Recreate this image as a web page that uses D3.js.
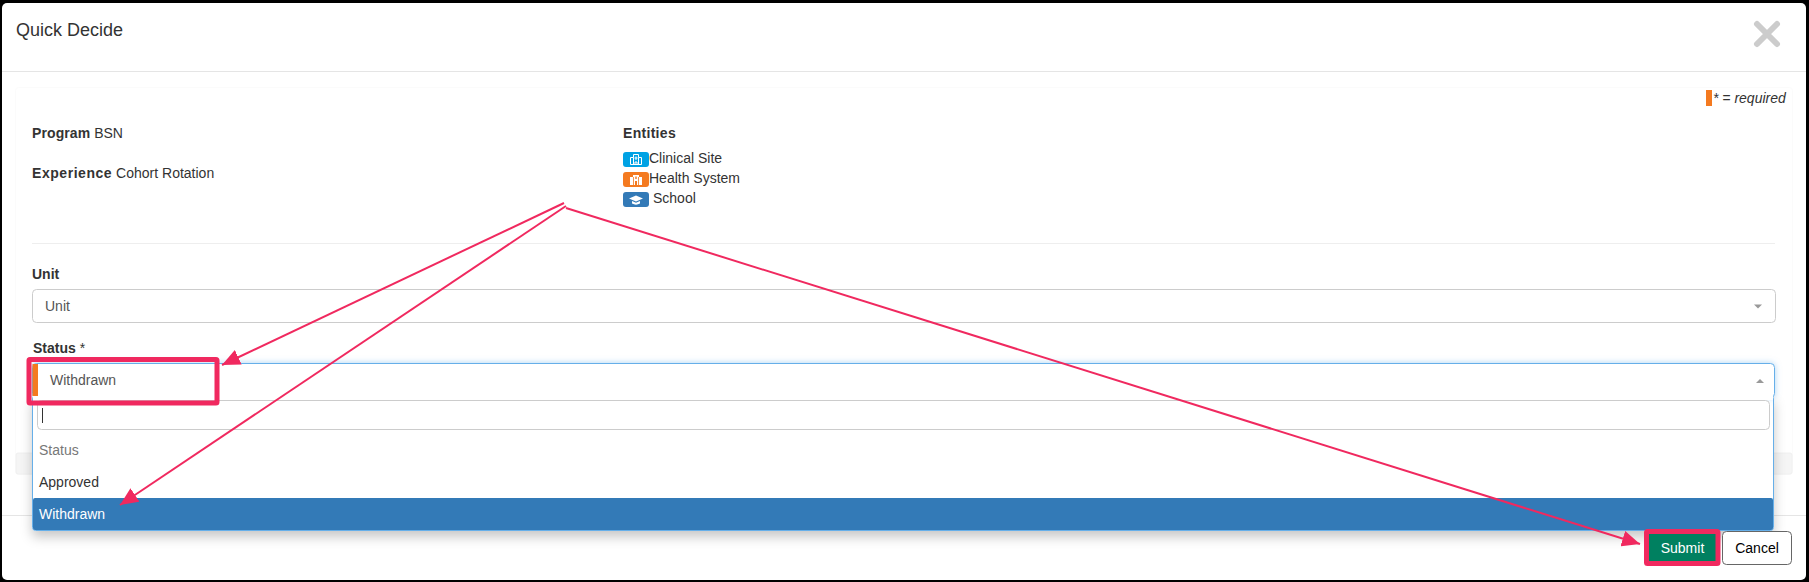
<!DOCTYPE html>
<html>
<head>
<meta charset="utf-8">
<script src="https://cdn.jsdelivr.net/npm/d3@7"></script>
<style>
  html, body { margin: 0; padding: 0; background: #fff; overflow: hidden; }
  svg { display: block; }
  text { font-family: "Liberation Sans", Arial, sans-serif; font-size: 14px; fill: #333; }
</style>
</head>
<body>
<div id="chart"></div>
<script>
const dialogTitle = 'Quick Decide';
const requiredNote = '* = required';
const summaryLabels = ['Program', 'Experience'];
const summaryValues = ['BSN', 'Cohort Rotation'];
const entityHeading = 'Entities';
const entityNames = ['Clinical Site', 'Health System', 'School'];
const entityColors = ['#00a2e4', '#f47a20', '#337ab7'];
const entityIcons = ['hospital', 'system', 'school'];
const statusOptions = ['Status', 'Approved', 'Withdrawn'];
const statusOptionColors = ['#777', '#333', '#fff'];
const unitLabel = 'Unit';
const statusLabel = 'Status';
const selectedStatus = 'Withdrawn';
const buttonLabels = ['Submit', 'Cancel'];

const pink = '#f0295f';
const orange = '#f47a20';

const svg = d3
  .select('#chart')
  .append('svg')
  .attr('width', 1809)
  .attr('height', 582);

// Shadows for the open dropdown and the focused select
const defs = svg.append('defs');
const dropShadow = defs
  .append('filter')
  .attr('id', 'dropShadow')
  .attr('x', '-5%')
  .attr('y', '-20%')
  .attr('width', '110%')
  .attr('height', '150%');
dropShadow
  .append('feDropShadow')
  .attr('dx', 0)
  .attr('dy', 6)
  .attr('stdDeviation', 6)
  .attr('flood-color', '#000')
  .attr('flood-opacity', 0.22);
const focusGlow = defs
  .append('filter')
  .attr('id', 'focusGlow')
  .attr('x', '-5%')
  .attr('y', '-50%')
  .attr('width', '110%')
  .attr('height', '200%');
focusGlow
  .append('feDropShadow')
  .attr('dx', 0)
  .attr('dy', 0)
  .attr('stdDeviation', 3)
  .attr('flood-color', '#66afe9')
  .attr('flood-opacity', 0.55);

const marker = defs
  .append('marker')
  .attr('id', 'arrowHead')
  .attr('viewBox', '0 0 18 16')
  .attr('refX', 18)
  .attr('refY', 8)
  .attr('markerUnits', 'userSpaceOnUse')
  .attr('markerWidth', 18)
  .attr('markerHeight', 16)
  .attr('orient', 'auto');
marker.append('path').attr('d', 'M0,0L18,8L0,16Z').attr('fill', pink);

function addText(parent, x, y, str, opts = {}) {
  return parent
    .append('text')
    .attr('x', x)
    .attr('y', y)
    .attr('text-anchor', opts.anchor || 'start')
    .style('font-size', (opts.size || 14) + 'px')
    .style('font-weight', opts.weight || 'normal')
    .style('font-style', opts.italic ? 'italic' : 'normal')
    .style('fill', opts.color || '#333')
    .text(str);
}

function addRect(parent, x, y, w, h, fill, stroke, rx) {
  return parent
    .append('rect')
    .attr('x', x)
    .attr('y', y)
    .attr('width', w)
    .attr('height', h)
    .attr('fill', fill)
    .attr('stroke', stroke || 'none')
    .attr('rx', rx || 0);
}

// **********************
// DIALOG FRAME
// **********************
addRect(svg, 0, 0, 1809, 582, '#000');
addRect(svg, 2, 3, 1804, 577, '#fff', 'none', 5);

addText(svg, 16, 36, dialogTitle, { size: 18 });
svg
  .append('path')
  .attr('d', 'M1757,24L1777,44M1777,24L1757,44')
  .attr('stroke', '#ccc')
  .attr('stroke-width', 6)
  .attr('stroke-linecap', 'round');
svg.append('line').attr('x1', 2).attr('x2', 1806).attr('y1', 71.5).attr('y2', 71.5).attr('stroke', '#e5e5e5');

// Faint panel behind the form
addRect(svg, 15.5, 87.5, 1777, 387, 'none', '#fbfbfb', 3);
addRect(svg, 16, 453, 1776, 21, '#f5f5f5', '#f0f0f0', 2);
svg.append('line').attr('x1', 2).attr('x2', 1806).attr('y1', 515.5).attr('y2', 515.5).attr('stroke', '#e5e5e5');

addRect(svg, 1706, 90, 6, 16, orange);
addText(svg, 1713, 103, requiredNote, { italic: true });

// **********************
// SUMMARY BLOCK
// **********************
const summaryY = d3.scalePoint().domain(summaryLabels).range([138, 178]);
summaryLabels.forEach((label, i) => {
  const t = addText(svg, 32, summaryY(label), null, { weight: 'bold' });
  t.append('tspan')
    .style('letter-spacing', label === 'Experience' ? '0.55px' : '0.1px')
    .text(label);
  t.append('tspan').style('font-weight', 'normal').text(' ' + summaryValues[i]);
});

addText(svg, 623, 138, entityHeading, { weight: 'bold' }).style('letter-spacing', '0.3px');

const entityY = d3.scalePoint().domain(entityNames).range([152, 192]);
const entityRows = svg
  .selectAll('g.entity')
  .data(entityNames)
  .enter()
  .append('g')
  .attr('class', 'entity')
  .attr('transform', (d) => `translate(623,${entityY(d)})`);

entityRows
  .append('rect')
  .attr('width', 26)
  .attr('height', 15)
  .attr('rx', 3)
  .attr('fill', (d, i) => entityColors[i]);

entityRows
  .append('path')
  .attr('fill', (d, i) => (entityIcons[i] === 'hospital' ? 'none' : '#fff'))
  .attr('fill-rule', 'evenodd')
  .attr('stroke', (d, i) => (entityIcons[i] === 'hospital' ? '#fff' : 'none'))
  .attr('stroke-width', 1)
  .attr('d', (d, i) => {
    if (entityIcons[i] === 'school') {
      return 'M6,6.5L13,3.5L20,6.5L13,9.5ZM9,9L13,10.8L17,9V11.5Q13,13.8 9,11.5Z';
    }
    if (entityIcons[i] === 'system') {
      return 'M7,13V5H10V3H16V5H19V13ZM10,5V13H10.8V5ZM15.2,5V13H16V5ZM12,9V13H14V9ZM12.3,4.5V7H13.7V4.5Z';
    }
    // outlined building with a cross on the tower
    return 'M7.5,12.5V5.5H10.5V2.5H15.5V5.5H18.5V12.5ZM10.5,5.5V12.5M15.5,5.5V12.5M13,4.5V8M11.5,6H14.5M12,12.5V10H14V12.5';
  });

entityRows
  .append('text')
  .attr('x', (d, i) => (i === 2 ? 30 : 26))
  .attr('y', 11)
  .text((d) => d);

svg.append('line').attr('x1', 32).attr('x2', 1775).attr('y1', 243.5).attr('y2', 243.5).attr('stroke', '#eee');

// **********************
// UNIT SELECT
// **********************
addText(svg, 32, 279, unitLabel, { weight: 'bold' });
addRect(svg, 32.5, 289.5, 1743, 33, '#fff', '#ccc', 4);
addText(svg, 45, 311, unitLabel, { color: '#555' });
svg.append('path').attr('d', 'M1754,304.5H1762L1758,308.5Z').attr('fill', '#999');

// **********************
// STATUS SELECT (OPEN)
// **********************
const status = addText(svg, 33, 353, statusLabel, { weight: 'bold' });
status.append('tspan').style('font-weight', 'normal').text(' *');

addRect(svg, 32.5, 396, 1741, 134.5, '#fff', '#66afe9', 3).attr('filter', 'url(#dropShadow)');
addRect(svg, 32.5, 363.5, 1742, 34, '#fff', '#66afe9', 4).attr('filter', 'url(#focusGlow)');
addRect(svg, 33, 396, 1740, 4, '#fff');
addRect(svg, 32.5, 364, 5.5, 32, orange);
addText(svg, 50, 385, selectedStatus, { color: '#555' });
svg.append('path').attr('d', 'M1756,383H1764L1760,379Z').attr('fill', '#999');

// Search box in the dropdown
addRect(svg, 37.5, 400.5, 1732, 29, '#fff', '#ccc', 4);
svg.append('line').attr('x1', 42.5).attr('x2', 42.5).attr('y1', 408).attr('y2', 423).attr('stroke', '#333');

const optionY = d3.scaleBand().domain(statusOptions).range([434, 530]);
const optionRows = svg
  .selectAll('g.option')
  .data(statusOptions)
  .enter()
  .append('g')
  .attr('class', 'option')
  .attr('transform', (d) => `translate(33,${optionY(d)})`);

optionRows
  .append('rect')
  .attr('width', 1740)
  .attr('height', optionY.bandwidth())
  .attr('rx', (d) => (d === selectedStatus ? 2 : 0))
  .attr('fill', (d) => (d === selectedStatus ? '#337ab7' : '#fff'));

optionRows
  .append('text')
  .attr('x', 6)
  .attr('y', 21)
  .style('fill', (d, i) => statusOptionColors[i])
  .text((d) => d);

// **********************
// FOOTER BUTTONS
// **********************
addRect(svg, 1649, 534, 67, 27, '#008060');
addText(svg, 1682.5, 553, buttonLabels[0], { anchor: 'middle', color: '#fff' });
addRect(svg, 1722.5, 531.5, 69, 33, '#fff', '#666', 4);
addText(svg, 1757, 553, buttonLabels[1], { anchor: 'middle', color: '#000' });

// **********************
// ANNOTATIONS
// **********************
svg
  .selectAll('rect.callout')
  .data(['status', 'submit'])
  .enter()
  .append('rect')
  .attr('class', 'callout')
  .attr('x', (d) => (d === 'status' ? 29 : 1646.5))
  .attr('y', (d) => (d === 'status' ? 359.5 : 531.5))
  .attr('width', (d) => (d === 'status' ? 188 : 71.5))
  .attr('height', (d) => (d === 'status' ? 43.5 : 32))
  .attr('rx', 1)
  .attr('fill', 'none')
  .attr('stroke', pink)
  .attr('stroke-width', 5);

const callouts = [
  [[564, 203], [222, 365]],
  [[566, 206], [120, 505]],
  [[566, 208], [1640, 544]],
];
svg
  .selectAll('line.arrow')
  .data(callouts)
  .enter()
  .append('line')
  .attr('class', 'arrow')
  .attr('x1', (d) => d[0][0])
  .attr('y1', (d) => d[0][1])
  .attr('x2', (d) => d[1][0])
  .attr('y2', (d) => d[1][1])
  .attr('stroke', pink)
  .attr('stroke-width', 2)
  .attr('marker-end', 'url(#arrowHead)');
</script>
</body>
</html>
